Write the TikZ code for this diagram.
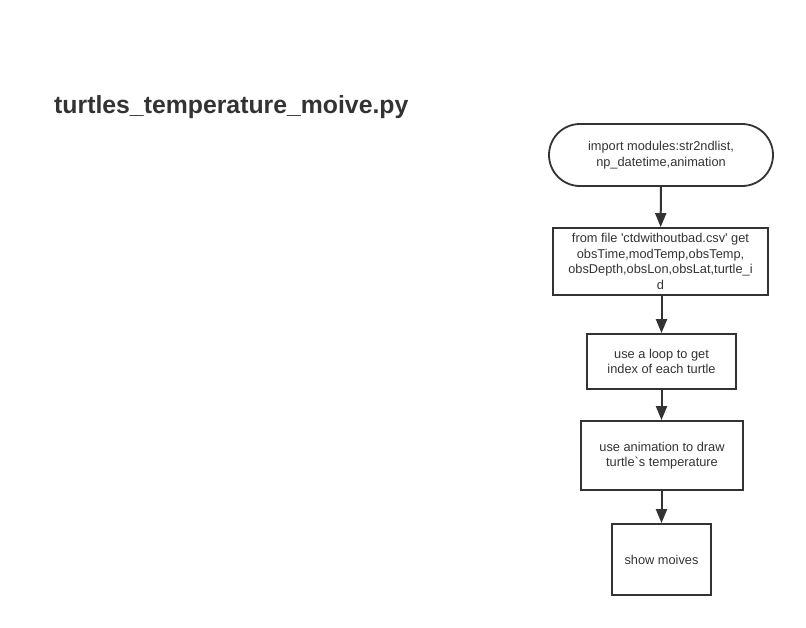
\documentclass[tikz,border=0pt]{standalone}
\usepackage{fontspec}
\setmainfont{Liberation Sans}[Ligatures=NoCommon]
\usetikzlibrary{arrows.meta,shapes.misc}
\definecolor{ink}{HTML}{333333}
\tikzset{
  base/.style={draw=ink, line width=1.8pt, text=ink, font=\fontsize{12.8}{15.5}\selectfont, align=center, inner sep=0pt},
  term/.style={base, rounded rectangle, minimum width=224pt, minimum height=62pt},
  proc/.style={base, rectangle},
  flow/.style={draw=ink, line width=2pt, -{Triangle[length=14pt,width=11pt]}}
}
\begin{document}
\begin{tikzpicture}[x=1pt,y=-1pt]
\useasboundingbox (0,0) rectangle (806,627);
\node[anchor=base west, text=ink, font=\fontsize{24.8}{28}\bfseries\selectfont, inner sep=0pt] (title) at (54,113) {turtles\_temperature\_moive.py};
\node[term] (n1) at (661,155) {import modules:str2ndlist,\\np\_datetime,animation};
\node[proc, minimum width=215pt, minimum height=67pt] (n2) at (660.5,261.5) {from file \textquotesingle ctdwithoutbad.csv\textquotesingle{} get\\obsTime,modTemp,obsTemp,\\obsDepth,obsLon,obsLat,turtle\_i\\d};
\node[proc, minimum width=149pt, minimum height=55pt] (n3) at (661.5,361.5) {use a loop to get\\index of each turtle};
\node[proc, minimum width=162pt, minimum height=69pt] (n4) at (662,455.5) {use animation to draw\\turtle\textasciigrave s temperature};
\node[proc, minimum width=99pt, minimum height=71pt] (n5) at (661.5,559.5) {show moives};
\draw[flow] (n1) -- (n2);
\draw[flow] (n2.south -| n3.north) -- (n3);
\draw[flow] (n3) -- (n3 |- n4.north);
\draw[flow] (n4.south -| n5.north) -- (n5);
\end{tikzpicture}
\end{document}
